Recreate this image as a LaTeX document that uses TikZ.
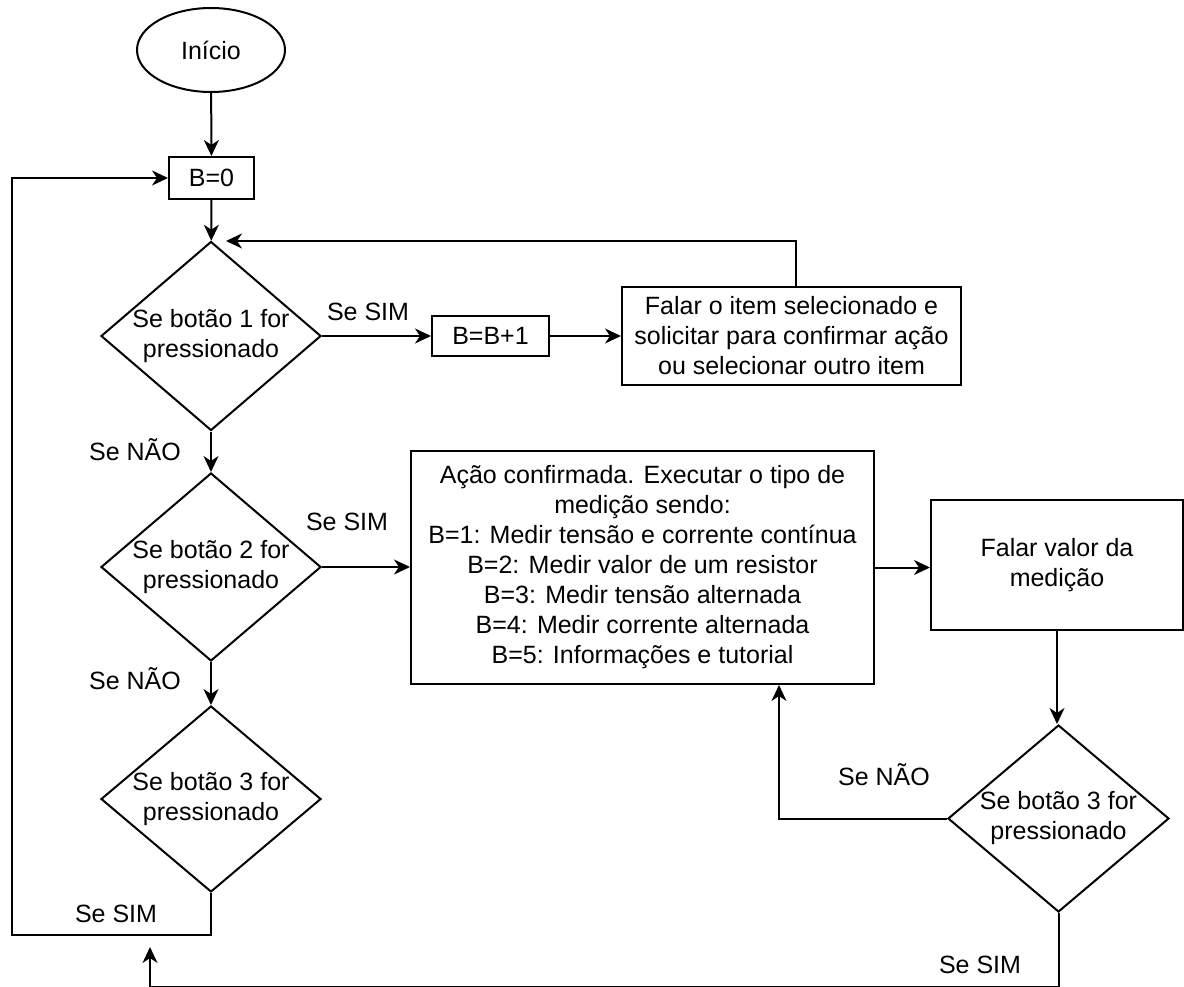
\documentclass[tikz,border=0pt]{standalone}
\usepackage{fontspec}
\setmainfont{Liberation Sans}
\usetikzlibrary{shapes.geometric,arrows.meta}
\begin{document}
\begin{tikzpicture}[x=1pt,y=-1pt,
  line width=2pt,
  every node/.style={font=\fontsize{25}{30}\selectfont, align=center},
  flow/.style={-{Stealth[length=16pt,width=15pt,inset=5pt]}},
  box/.style={draw, rectangle, inner sep=0pt},
  dia/.style={draw, diamond, inner sep=0pt, minimum width=220pt, minimum height=189pt},
  tag/.style={inner sep=0pt}]
\useasboundingbox (0,0) rectangle (1184,987);

% nodes
\node[draw, ellipse, minimum width=148pt, minimum height=84pt] (start) at (211,50) {Início};
\node[box, minimum width=85pt, minimum height=42pt] (b0) at (211.5,178) {B=0};
\node[dia, label={center:Se botão 1 for\\pressionado}] (d1) at (211,336) {};
\node[box, minimum width=117pt, minimum height=40pt] (inc) at (490.5,336) {B=B+1};
\node[box, minimum width=339pt, minimum height=98pt] (say) at (791.5,336)
  {Falar o item selecionado e\\solicitar para confirmar ação\\ou selecionar outro item};
\node[dia, minimum height=188pt, label={center:Se botão 2 for\\pressionado}] (d2) at (211,567) {};
\node[box, minimum width=463pt, minimum height=233pt] (run) at (642.5,567.5)
  {Ação confirmada. Executar o tipo de\\medição sendo:\\B=1: Medir tensão e corrente contínua\\
   B=2: Medir valor de um resistor\\B=3: Medir tensão alternada\\B=4: Medir corrente alternada\\
   B=5: Informações e tutorial};
\node[box, minimum width=252pt, minimum height=130pt] (val) at (1057,565) {Falar valor da\\medição};
\node[dia, minimum height=186pt, label={center:Se botão 3 for\\pressionado}] (d3) at (211,799) {};
\node[dia, minimum width=221pt, minimum height=187pt, label={center:Se botão 3 for\\pressionado}] (d4) at (1058.5,818.5) {};

% free ends of the loop connectors
\coordinate (back1) at (226,241);
\coordinate (loopL) at (12,935);
\coordinate (loopB) at (150,987);
\coordinate (loopEnd) at (150,947);

% connectors
\draw[flow] (start) -- (b0);
\draw[flow] (b0) -- (d1);
\draw[flow] (d1.east) -- (inc.west);
\draw[flow] (inc) -- (say);
\draw[flow] ([xshift=4.5pt]say.north) |- (back1);
\draw[flow] (d1) -- (d2);
\draw[flow] (d2.east) -- (d2.east -| run.west);
\draw[flow] (run.east) -- (run.east -| val.west);
\draw[flow] (d2) -- (d3);
\draw[flow] (val.south) -- (val.south |- d4.north);
\draw[flow] (d4.west) -| ([xshift=136.5pt]run.south);
\draw[flow] (d3.south) |- (loopL) |- (b0.west);
\draw[flow] (d4.south) |- (loopB) -- (loopEnd);

% branch labels
\node[tag] (l1) at (368,312) {Se SIM};
\node[tag] (l2) at (135,450) {Se NÃO};
\node[tag] (l3) at (347,522) {Se SIM};
\node[tag] (l4) at (135,679) {Se NÃO};
\node[tag] (l5) at (116,914) {Se SIM};
\node[tag] (l6) at (884,775) {Se NÃO};
\node[tag] (l7) at (980,965) {Se SIM};
\end{tikzpicture}
\end{document}
